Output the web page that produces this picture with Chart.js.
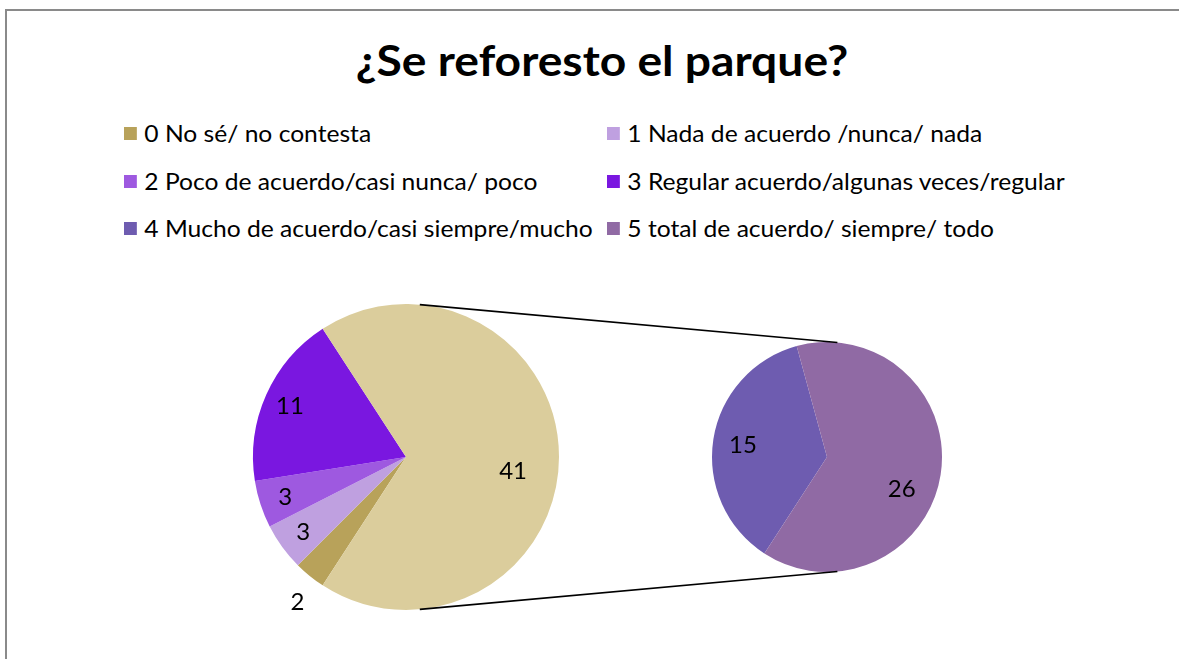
<!DOCTYPE html>
<html>
<head>
<meta charset="utf-8">
<script src="https://cdn.jsdelivr.net/npm/chart.js@4.4.1/dist/chart.umd.min.js"></script>
<style>
    body {
        margin: 0;
        width: 1179px;
        height: 659px;
        overflow: hidden;
        background: #fff;
        position: relative;
        font-family: Lato, "Open Sans", sans-serif;
    }
    #frame {
        position: absolute;
        left: 5px;
        top: 9px;
        right: -10px;
        bottom: -10px;
        border-left: 2px solid #8a8a8a;
        border-top: 2px solid #8a8a8a;
    }
    #title {
        position: absolute;
        top: 36px;
        left: 0;
        width: 1204px;
        text-align: center;
        font-weight: bold;
        font-size: 42px;
        line-height: 48px;
        transform: scaleX(1.1);
    }
    .leg {
        position: absolute;
        display: flex;
        align-items: center;
        height: 30px;
        font-size: 23px;
        white-space: nowrap;
        transform: scaleX(1.07);
        transform-origin: left center;
    }
    .leg i {
        display: inline-block;
        width: 12px;
        height: 13px;
        margin-right: 7px;
    }
    canvas { position: absolute; }
</style>
</head>
<body>
<div id="frame"></div>
<div id="title">¿Se reforesto el parque?</div>
<div id="legend"></div>
<canvas id="main-pie" width="320" height="320" style="left:246px;top:297px"></canvas>
<canvas id="sub-pie" width="250" height="250" style="left:702px;top:332px"></canvas>
<canvas id="connectors" width="1179" height="659" style="left:0;top:0;pointer-events:none"></canvas>

<script>
const categories = [
    "0 No sé/ no contesta",
    "1 Nada de acuerdo /nunca/ nada",
    "2 Poco de acuerdo/casi nunca/ poco",
    "3 Regular acuerdo/algunas veces/regular",
    "4 Mucho de acuerdo/casi siempre/mucho",
    "5 total de acuerdo/ siempre/ todo"
];
const values = [2, 3, 3, 11, 15, 26];
const colors = ["#b8a25a", "#bfa0e0", "#9e59e0", "#7a17e0", "#6e5cb0", "#906aa4"];
const otherColor = "#dbcd9c";

// first four go in the main pie, the last two are split out into the small pie
const mainCount = 4;

window.addEventListener("DOMContentLoaded", init);

let mainChart, subChart;

function init() {
    buildLegend();

    const mainValues = values.slice(0, mainCount);
    const subValues = values.slice(mainCount);
    const otherTotal = subValues.reduce((a, b) => a + b, 0);
    const total = values.reduce((a, b) => a + b, 0);

    mainChart = new Chart(document.getElementById("main-pie"), {
        type: "pie",
        data: {
            labels: categories.slice(0, mainCount).concat("Otros"),
            datasets: [{
                data: mainValues.concat(otherTotal),
                backgroundColor: colors.slice(0, mainCount).concat(otherColor),
                borderWidth: 0
            }]
        },
        options: {
            responsive: false,
            animation: false,
            rotation: 90 + (otherTotal / total) * 180,
            layout: { padding: 7 },
            plugins: {
                legend: { display: false },
                tooltip: { enabled: false },
                sliceLabels: { inner: 0.83, big: 0.705, tilt: 7 }
            }
        },
        plugins: [sliceLabels]
    });

    subChart = new Chart(document.getElementById("sub-pie"), {
        type: "pie",
        data: {
            labels: categories.slice(mainCount),
            datasets: [{
                data: subValues,
                backgroundColor: colors.slice(mainCount),
                borderWidth: 0
            }]
        },
        options: {
            responsive: false,
            animation: false,
            rotation: 213,
            layout: { padding: 10 },
            plugins: {
                legend: { display: false },
                tooltip: { enabled: false },
                sliceLabels: { inner: 0.74, big: 0.705, tilt: 14 }
            }
        },
        plugins: [sliceLabels]
    });

    drawConnectors();
}

function buildLegend() {
    const legend = document.getElementById("legend");
    const rows = [118, 166, 213];
    const cols = [124, 607];
    categories.forEach((name, i) => {
        const item = document.createElement("div");
        item.className = "leg";
        item.style.left = cols[i % 2] + "px";
        item.style.top = rows[Math.floor(i / 2)] + "px";
        item.innerHTML = `<i style="background:${colors[i]}"></i>${name}`;
        legend.appendChild(item);
    });
}

const sliceLabels = {
    id: "sliceLabels",
    afterDatasetsDraw(chart, args, opts) {
        const ctx = chart.ctx;
        const data = chart.data.datasets[0].data;
        const sum = data.reduce((a, b) => a + b, 0);
        const size = 24;
        ctx.save();
        ctx.font = size + "px Lato";
        ctx.fillStyle = "#000";
        ctx.textAlign = "center";
        ctx.textBaseline = "alphabetic";
        chart.getDatasetMeta(0).data.forEach((arc, i) => {
            const share = data[i] / sum;
            let mid = (arc.startAngle + arc.endAngle) / 2;
            let k = opts.inner;
            if (share < 0.04) {
                // tiny slices get their number outside, like excel's best fit
                k = 1.18;
                mid -= 2 * Math.PI / 180;
            } else if (share > 0.5) {
                k = opts.big;
                mid += opts.tilt * Math.PI / 180;
            }
            ctx.fillText(data[i],
                arc.x + Math.cos(mid) * arc.outerRadius * k,
                arc.y + Math.sin(mid) * arc.outerRadius * k + size * 0.36);
        });
        ctx.restore();
    }
};

function drawConnectors() {
    const a = mainChart.getDatasetMeta(0).data[0];
    const b = subChart.getDatasetMeta(0).data[0];
    const ca = mainChart.canvas, cb = subChart.canvas;

    const x1 = ca.offsetLeft + a.x, y1 = ca.offsetTop + a.y, r1 = a.outerRadius;
    const x2 = cb.offsetLeft + b.x, y2 = cb.offsetTop + b.y, r2 = b.outerRadius;

    const d = Math.hypot(x2 - x1, y2 - y1);
    const base = Math.atan2(y2 - y1, x2 - x1);
    const phi = Math.acos((r1 - r2) / d);

    const ctx = document.getElementById("connectors").getContext("2d");
    ctx.strokeStyle = "#000";
    ctx.lineWidth = 1.6;
    [base - phi, base + phi].forEach(t => {
        ctx.beginPath();
        ctx.moveTo(x1 + Math.cos(t) * r1, y1 + Math.sin(t) * r1);
        ctx.lineTo(x2 + Math.cos(t) * r2, y2 + Math.sin(t) * r2);
        ctx.stroke();
    });
}
</script>
</body>
</html>
